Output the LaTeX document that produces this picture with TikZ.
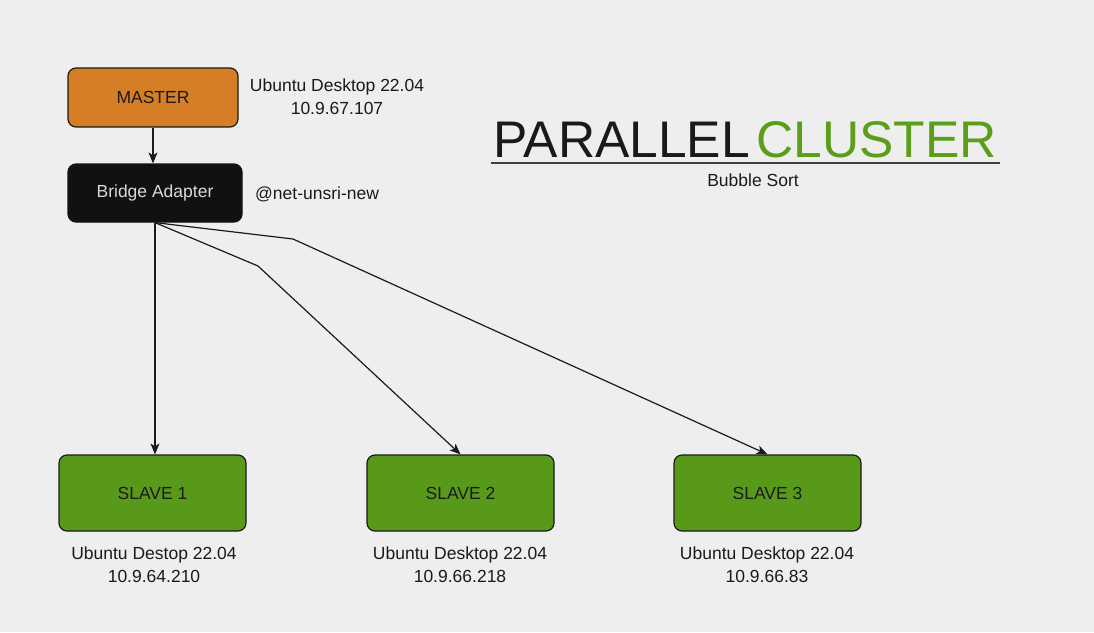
\documentclass[tikz,border=0pt]{standalone}
\usepackage{fontspec}
\setmainfont{Liberation Sans}
\usetikzlibrary{arrows.meta}
\definecolor{bg}{HTML}{EEEEEE}
\definecolor{masterc}{HTML}{D57E26}
\definecolor{slavec}{HTML}{59991A}
\definecolor{txt}{HTML}{1A1A1A}
\definecolor{bridgec}{HTML}{111111}
\definecolor{titlegreen}{HTML}{5A9E1A}
\begin{document}
\begin{tikzpicture}[x=1pt,y=-1pt,
  box/.style={draw=txt,line width=1.2pt,rounded corners=8pt,text=txt,
    font=\fontsize{17.5}{20}\selectfont,inner sep=0pt},
  lbl/.style={text=txt,font=\fontsize{17.5}{23}\selectfont,align=center,inner sep=0pt},
  conn/.style={draw=txt,line width=1.2pt,-{Stealth[length=11pt,width=9pt,inset=3pt]}}]
\useasboundingbox[fill=bg] (0,0) rectangle (1094,632);
% nodes
\node[box,fill=masterc,minimum width=170pt,minimum height=59pt] (master) at (153,97.5) {MASTER};
\node[box,fill=bridgec,draw=bridgec,text=black!15,minimum width=174pt,minimum height=58pt] (bridge) at (155,193) {\raisebox{-1.5pt}{Bridge Adapter}};
\node[box,fill=slavec,minimum width=187pt,minimum height=76pt] (s1) at (152.5,493) {SLAVE 1};
\node[box,fill=slavec,minimum width=187pt,minimum height=76pt] (s2) at (460.5,493) {SLAVE 2};
\node[box,fill=slavec,minimum width=187pt,minimum height=76pt] (s3) at (767.5,493) {SLAVE 3};
% labels
\node[lbl] (mlbl) at (337,97) {Ubuntu Desktop 22.04\\10.9.67.107};
\node[lbl,anchor=west] (blbl) at (255,194) {@net-unsri-new};
\node[lbl] (l1) at (154,565) {Ubuntu Destop 22.04\\10.9.64.210};
\node[lbl] (l2) at (460,565) {Ubuntu Desktop 22.04\\10.9.66.218};
\node[lbl] (l3) at (767,565) {Ubuntu Desktop 22.04\\10.9.66.83};
% title
\node[inner sep=0pt,anchor=base west,font=\fontsize{51.5}{52}\selectfont,text=txt] (t1) at (493,157) {PARALLEL};
\node[inner sep=0pt,anchor=base west,font=\fontsize{51.5}{52}\selectfont,text=titlegreen] (t2) at (756,157) {CLUSTER};
\coordinate (ula) at (491,163);
\coordinate (ulb) at (1000,163);
\draw[line width=1.3pt,draw=black!75] (ula) -- (ulb);
\node[lbl] (sub) at (753,180) {Bubble Sort};
% connectors
\coordinate (b1) at (258,266);
\coordinate (b2) at (293,239);
\draw[conn] (master.south) -- (master.south |- bridge.north);
\draw[conn] (bridge.south) -- (s1.north -| bridge.south);
\draw[conn] (bridge.south) -- (b1) -- (s2.north);
\draw[conn] (bridge.south) -- (b2) -- (s3.north);
\end{tikzpicture}
\end{document}
